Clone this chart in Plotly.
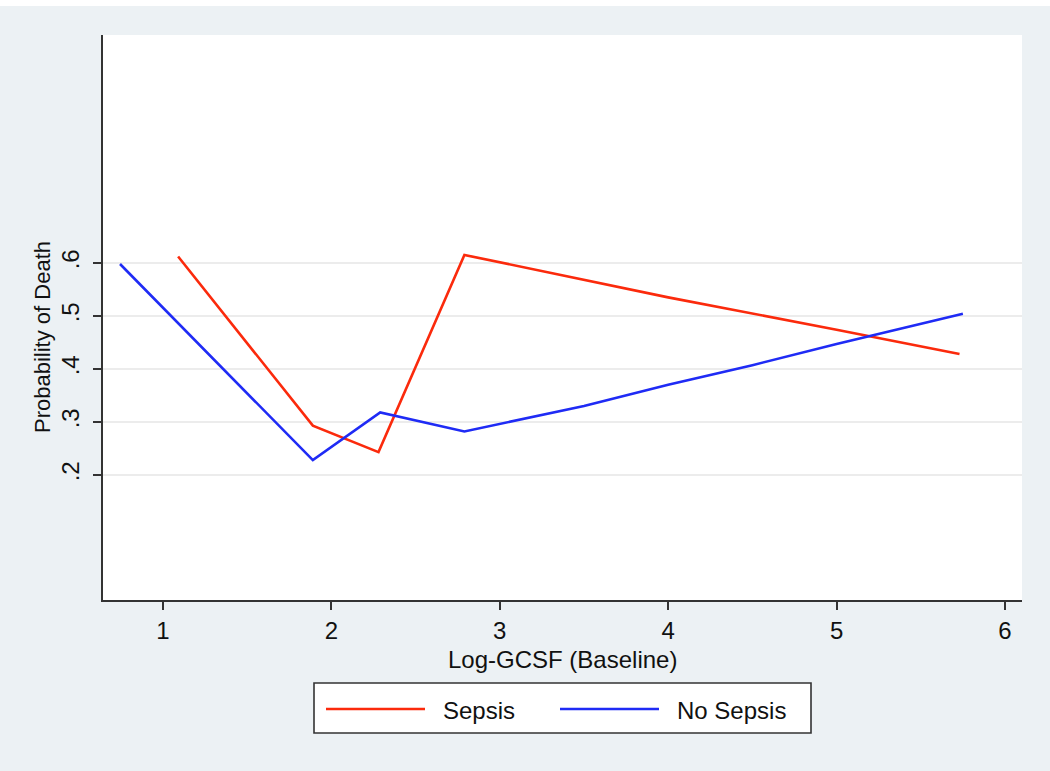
import plotly.graph_objects as go

# ---- data ----
series_names = ["Sepsis", "No Sepsis"]
sepsis_x = [1.09, 1.89, 2.28, 2.79, 4.0, 5.0, 5.73]
sepsis_y = [0.612, 0.293, 0.243, 0.615, 0.535, 0.474, 0.428]
nosepsis_x = [0.745, 1.89, 2.29, 2.79, 3.5, 4.0, 4.5, 5.0, 5.75]
nosepsis_y = [0.598, 0.228, 0.318, 0.282, 0.33, 0.37, 0.407, 0.447, 0.504]
x_ticks = [1, 2, 3, 4, 5, 6]
y_ticks = [0.2, 0.3, 0.4, 0.5, 0.6]
y_tick_labels = [".2", ".3", ".4", ".5", ".6"]
x_title = "Log-GCSF (Baseline)"
y_title = "Probability of Death"

RED = "#fb2a0c"
BLUE = "#1f2bf5"
FONT = "Liberation Sans, Arial, sans-serif"

TOP_OFF = 6  # page top offset (body margin)

fig = go.Figure()
fig.add_trace(go.Scatter(x=sepsis_x, y=sepsis_y, mode="lines", name=series_names[0],
                         line=dict(color=RED, width=2.6), showlegend=False))
fig.add_trace(go.Scatter(x=nosepsis_x, y=nosepsis_y, mode="lines", name=series_names[1],
                         line=dict(color=BLUE, width=2.6), showlegend=False))

fig.update_layout(
    width=1050, height=771 - TOP_OFF,
    paper_bgcolor="#ecf1f4",
    plot_bgcolor="white",
    margin=dict(l=103, r=28, t=35 - TOP_OFF, b=171, autoexpand=False),
    font=dict(family=FONT, size=24, color="#111111"),
    showlegend=False,
)

fig.update_xaxes(
    range=[0.644, 6.101], tickvals=x_ticks, ticktext=[str(v) for v in x_ticks],
    showline=True, linecolor="#333333", linewidth=1.6, mirror=False,
    ticks="outside", ticklen=8, tickwidth=1.5, tickcolor="#333333",
    showgrid=False, zeroline=False,
    tickfont=dict(size=24),
)
fig.update_yaxes(
    range=[-0.036, 1.030], tickvals=y_ticks, ticktext=y_tick_labels, tickangle=-90,
    showline=True, linecolor="#333333", linewidth=1.6,
    ticks="outside", ticklen=8, tickwidth=1.5, tickcolor="#333333",
    ticklabelstandoff=5,
    showgrid=True, gridcolor="#ececec", gridwidth=2, zeroline=False,
    tickfont=dict(size=24),
)

# ---- page-pixel helpers (plot area spans x 103..1022, y 35..600 on the page) ----
W, H, L, T = 919.0, 565.0, 103.0, 35.0
def px(xp):
    return (xp - L) / W
def py(yp):
    return 1 - (yp - T) / H

# axis titles
fig.add_annotation(xref="paper", yref="paper", x=px(562.5), y=py(659),
                   text=x_title, showarrow=False, xanchor="center", yanchor="middle",
                   font=dict(size=24))
fig.add_annotation(xref="paper", yref="paper", x=px(42), y=py(337),
                   text=y_title, showarrow=False, xanchor="center", yanchor="middle",
                   textangle=-90, font=dict(size=22))

# legend drawn as a box below the plot
fig.add_shape(type="rect", xref="paper", yref="paper",
              x0=px(314), x1=px(811), y0=py(733), y1=py(683),
              line=dict(color="#333333", width=1.6), fillcolor="white")
fig.add_shape(type="line", xref="paper", yref="paper",
              x0=px(326), x1=px(425), y0=py(709), y1=py(709),
              line=dict(color=RED, width=2.6))
fig.add_shape(type="line", xref="paper", yref="paper",
              x0=px(560), x1=px(659), y0=py(709), y1=py(709),
              line=dict(color=BLUE, width=2.6))
fig.add_annotation(xref="paper", yref="paper", x=px(441), y=py(710),
                   text=series_names[0], showarrow=False, xanchor="left", yanchor="middle",
                   font=dict(size=24))
fig.add_annotation(xref="paper", yref="paper", x=px(675), y=py(710),
                   text=series_names[1], showarrow=False, xanchor="left", yanchor="middle",
                   font=dict(size=24))

fig.write_html("out.html",
               post_script="document.body.style.margin='%dpx 0 0 0';" % TOP_OFF)
